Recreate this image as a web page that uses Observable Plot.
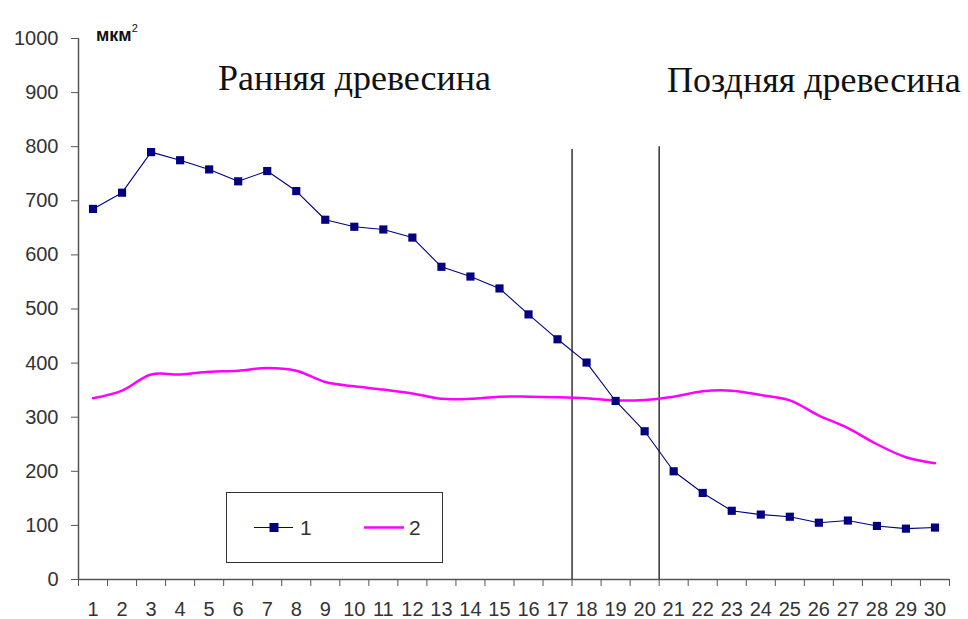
<!DOCTYPE html>
<html>
<head>
<meta charset="utf-8">
<script src="https://cdn.jsdelivr.net/npm/d3@7"></script>
<script src="https://cdn.jsdelivr.net/npm/@observablehq/plot@0.6"></script>
<style>
  body { margin: 0; background: #fff; }
  #wrap { position: relative; width: 968px; height: 619px; overflow: hidden; background: #fff; }
  #wrap > svg { position: absolute; left: 0; top: 0; overflow: visible; }
  .zone { position: absolute; font-family: "Liberation Serif", "Times New Roman", serif; font-size: 36px; line-height: 36px; color: #111; white-space: nowrap; }
  .unit { position: absolute; font-family: "Liberation Sans", Arial, sans-serif; font-weight: bold; font-size: 18px; line-height: 18px; color: #111; white-space: nowrap; }
  .unit sup { font-size: 11px; font-weight: normal; position: relative; top: -2px; }
  #legend { position: absolute; left: 226px; top: 492px; width: 215px; height: 69px; border: 1.5px solid #333; background: #fff; }
</style>
</head>
<body>
<div id="wrap"></div>
<script>
// Categories (positions across the ring) and series values (мкм²)
const categories = [1,2,3,4,5,6,7,8,9,10,11,12,13,14,15,16,17,18,19,20,21,22,23,24,25,26,27,28,29,30];
const series1 = [685,715,790,775,758,736,755,718,665,652,647,632,578,560,538,490,444,401,330,274,200,160,127,120,116,105,109,99,94,96];
const series2 = [335,349,379,379,384,386,391,386,365,357,351,344,334,334,338,338,337,335,331,332,338,348,349,341,331,303,280,250,226,215];
const yTicks = [0,100,200,300,400,500,600,700,800,900,1000];
const xTickLabels = categories.map(String);
// Zone separators (between categories 17|18 and 20|21) and their top values
const separatorX = [17.5, 20.5];
const separatorTop = [795, 800];
// Annotation / legend texts
const zoneLabels = ["Ранняя древесина", "Поздняя древесина"];
const unitLabel = "мкм";
const legendLabels = ["1", "2"];

const colors = { s1: "#000080", s2: "#ff00ff", axis: "#555", text: "#333" };

const d1 = categories.map((c, i) => ({ x: c, y: series1[i] }));
const d2 = categories.map((c, i) => ({ x: c, y: series2[i] }));
const boundaries = categories.map(c => c - 0.5).concat([categories[categories.length - 1] + 0.5]);
const seps = separatorX.map((x, i) => ({ x, top: separatorTop[i] }));

const chart = Plot.plot({
  width: 968,
  height: 619,
  marginLeft: 78,
  marginRight: 19,
  marginTop: 38,
  marginBottom: 40,
  x: { domain: [boundaries[0], boundaries[boundaries.length - 1]] },
  y: { domain: [0, 1000] },
  style: { fontFamily: "'Liberation Sans', Arial, sans-serif", fontSize: "20px", color: colors.text, background: "white" },
  marks: [
    Plot.axisY({ ticks: yTicks, tickSize: 7, tickPadding: 13, tickFormat: (d) => String(d), stroke: colors.axis, label: null }),
    Plot.axisX({ ticks: boundaries, tickSize: 7, tickFormat: () => "", stroke: colors.axis, label: null }),
    Plot.axisX({ ticks: categories, tickSize: 0, tickPadding: 22, tickFormat: (d) => xTickLabels[categories.indexOf(d)], label: null }),
    Plot.ruleX([boundaries[0]], { y1: 0, y2: 1000, stroke: colors.axis, strokeWidth: 1.5 }),
    Plot.ruleY([0], { stroke: colors.axis, strokeWidth: 1.5 }),
    Plot.ruleX(seps, { x: "x", y1: 0, y2: "top", stroke: "#333", strokeWidth: 1.5 }),
    Plot.line(d2, { x: "x", y: "y", stroke: colors.s2, strokeWidth: 2.5, curve: "catmull-rom" }),
    Plot.line(d1, { x: "x", y: "y", stroke: colors.s1, strokeWidth: 1.1 }),
    Plot.dot(d1, { x: "x", y: "y", symbol: "square", fill: colors.s1, stroke: "none", r: 4.6 })
  ]
});

const wrap = document.getElementById("wrap");
wrap.appendChild(chart);

// Unit label
const unit = document.createElement("div");
unit.className = "unit";
unit.style.left = "96px";
unit.style.top = "21px";
unit.innerHTML = unitLabel + "<sup>2</sup>";
wrap.appendChild(unit);

// Zone labels
const zonePos = [{ left: 218, top: 60 }, { left: 667, top: 62 }];
zoneLabels.forEach((t, i) => {
  const el = document.createElement("div");
  el.className = "zone";
  el.style.left = zonePos[i].left + "px";
  el.style.top = zonePos[i].top + "px";
  el.textContent = t;
  wrap.appendChild(el);
});

// Legend
const legend = document.createElement("div");
legend.id = "legend";
legend.innerHTML = `<svg width="215" height="69" style="position:absolute;left:0;top:0">
  <line x1="27" x2="66" y1="34.5" y2="34.5" stroke="${colors.s1}" stroke-width="1.1"/>
  <rect x="42.5" y="30" width="9" height="9" fill="${colors.s1}"/>
  <text x="73" y="42" font-family="Liberation Sans, Arial, sans-serif" font-size="21" fill="${colors.text}">${legendLabels[0]}</text>
  <line x1="137" x2="177" y1="34.5" y2="34.5" stroke="${colors.s2}" stroke-width="2.5"/>
  <text x="182" y="42" font-family="Liberation Sans, Arial, sans-serif" font-size="21" fill="${colors.text}">${legendLabels[1]}</text>
</svg>`;
wrap.appendChild(legend);
</script>
</body>
</html>
